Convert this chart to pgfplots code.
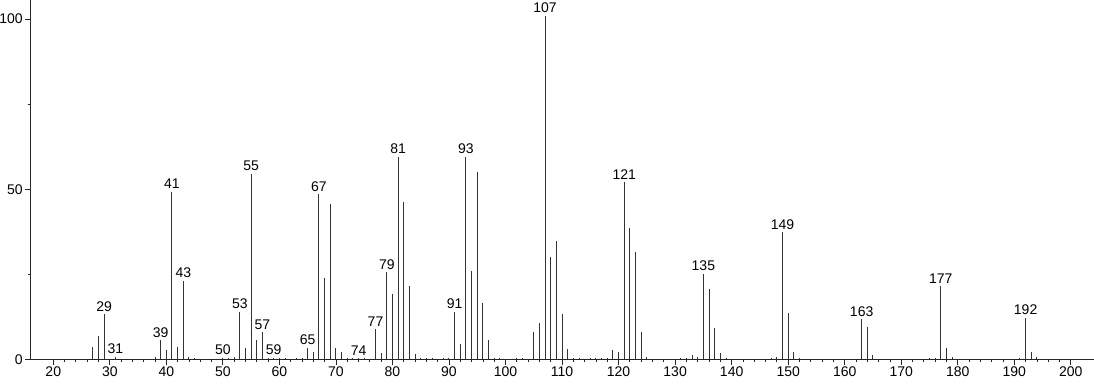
\documentclass[border=0pt]{standalone}
\usepackage{fontspec}
\setmainfont{Liberation Sans}
\usepackage{pgfplots}
\pgfplotsset{compat=1.18}
\begin{document}
\begin{tikzpicture}
\begin{axis}[
  name=ax,
  scale only axis,
  width=797.5pt, height=269.5pt,
  xmin=16.0, xmax=204.1,
  ymin=0, ymax=105.6,
  axis lines*=left,
  x axis line style={-, black!85},
  y axis line style={-, black!85},
  xtick={20,30,...,200},
  minor x tick num=4,
  ytick={0,50,100},
  minor ytick={25,75},
  tick align=outside,
  major tick length=3.9pt,
  minor tick length=2.3pt,
  tick style={black!85, line width=0.6pt},
  every tick label/.append style={font=\fontsize{10.5}{12}\selectfont},
  /pgf/number format/assume math mode=true,
  xticklabel style={yshift=2pt},
  yticklabel style={xshift=1.5pt},
  clip=false,
]
\addplot[ycomb, mark=none, line width=0.75pt, black!80] table {
x y
27 3.5
28 6.9
29 13.3
31 0.8
38 0.8
39 5.6
40 2.7
41 49.3
42 3.5
43 23.0
44 0.8
45 0.4
50 0.5
51 0.5
52 0.6
53 14.0
54 3.2
55 54.6
56 5.6
57 8.0
58 0.5
59 0.5
60 0.4
61 0.3
63 0.3
64 0.4
65 3.4
66 2.2
67 48.5
68 24.0
69 45.6
70 3.2
71 2.2
72 0.5
73 0.3
74 0.4
75 0.3
77 8.8
78 1.8
79 25.6
80 19.2
81 59.6
82 46.3
83 21.6
84 1.6
85 0.4
86 0.3
87 0.3
89 0.3
90 0.3
91 14.0
92 4.5
93 59.6
94 25.9
95 55.0
96 16.5
97 5.8
98 0.5
99 0.4
102 0.3
103 0.4
105 7.9
106 10.8
107 101
108 30.1
109 34.8
110 13.3
111 3.0
112 0.5
113 0.5
115 0.3
116 0.4
117 0.4
118 0.4
119 2.7
120 2.3
121 52.1
122 38.6
123 31.5
124 7.9
125 0.6
131 0.3
132 0.4
133 1.2
134 0.8
135 25.1
136 20.6
137 9.2
138 1.8
139 0.4
147 0.3
148 0.7
149 37.3
150 13.6
151 2.3
152 0.5
163 11.8
164 9.5
165 1.3
175 0.3
176 0.5
177 21.5
178 3.2
179 0.7
191 0.5
192 12.2
193 2.2
194 0.8
};
\addplot[draw=none, mark=none, point meta=x,
  nodes near coords={\pgfmathprintnumber[fixed,precision=0]{\pgfplotspointmeta}},
  every node near coord/.append style={font=\fontsize{10.5}{12}\selectfont, anchor=south, inner sep=2pt, text=black}]
table {
x y
29 13.3
31 0.8
39 5.6
41 49.3
43 23.0
50 0.5
53 14.0
55 54.6
57 8.0
59 0.5
65 3.4
67 48.5
74 0.4
77 8.8
79 25.6
81 59.6
91 14.0
93 59.6
107 101
121 52.1
135 25.1
149 37.3
163 11.8
177 21.5
192 12.2
};
\end{axis}
\pgfresetboundingbox
\path ([xshift=-23pt,yshift=-18.5pt]ax.south west) rectangle (ax.north east);
\end{tikzpicture}
\end{document}
